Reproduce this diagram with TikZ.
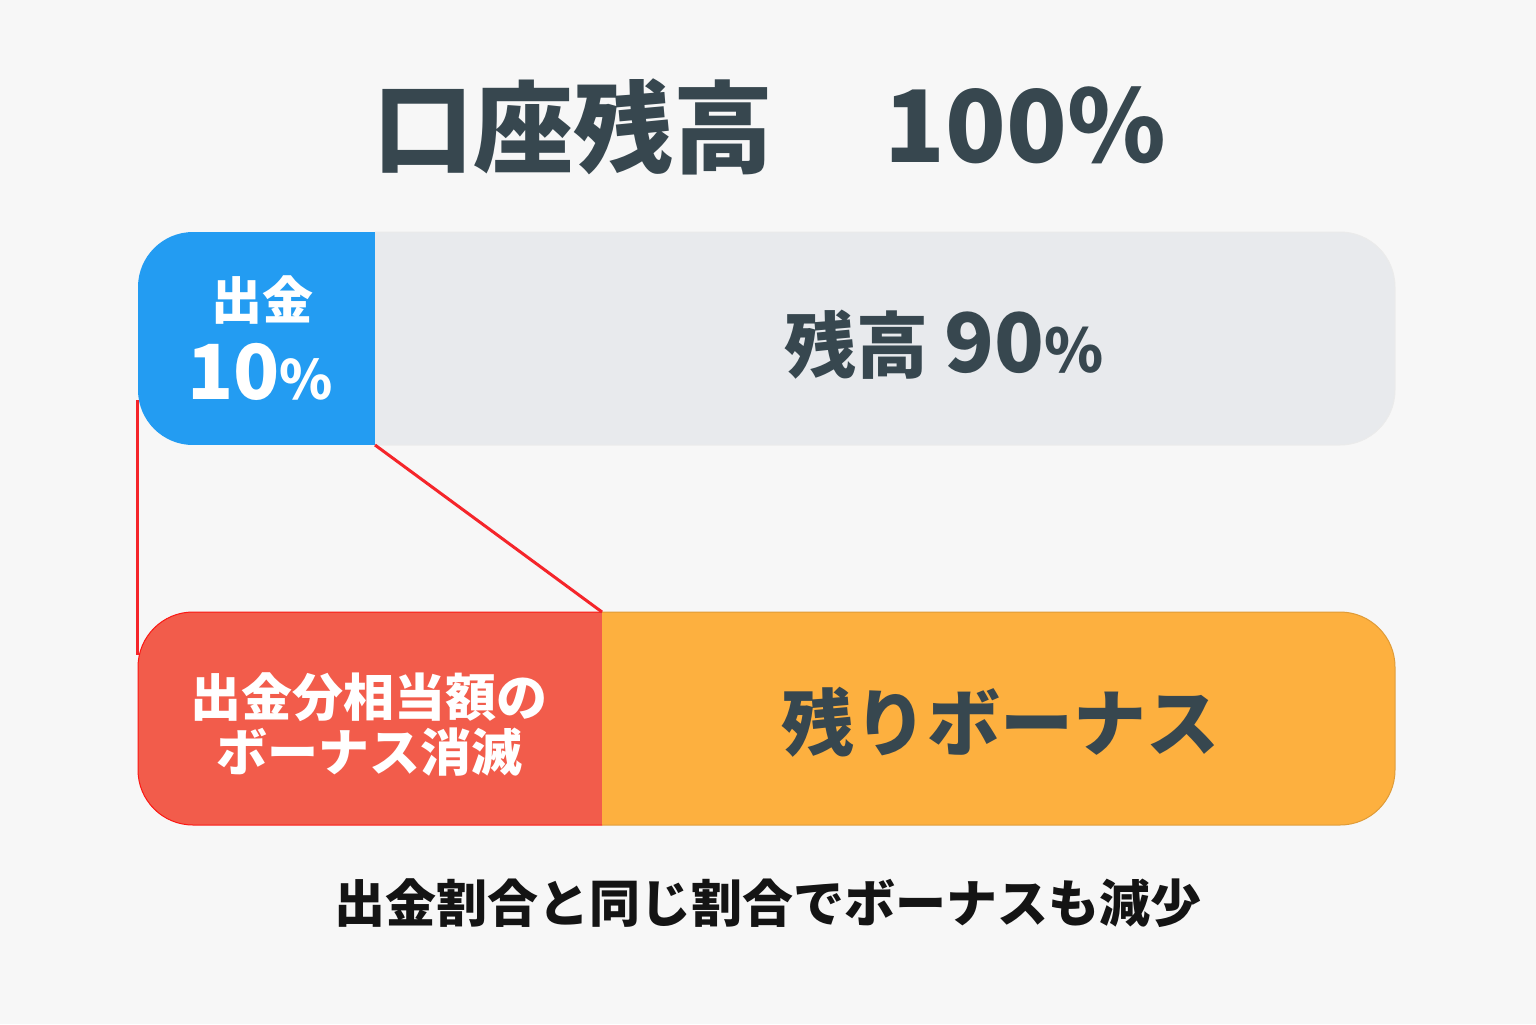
\documentclass[tikz,border=0pt]{standalone}
\usepackage{fontspec}
\setmainfont{Noto Sans CJK JP}
\definecolor{bgc}{HTML}{F7F7F7}
\definecolor{inkc}{HTML}{37474F}
\definecolor{bluec}{HTML}{239CF2}
\definecolor{greyc}{HTML}{E8EAED}
\definecolor{redc}{HTML}{F25C4B}
\definecolor{orangec}{HTML}{FDB03F}
\definecolor{linec}{HTML}{F5252A}
\tikzset{
  part/.style={rectangle, inner sep=0pt, outer sep=0pt, minimum height=106.5pt},
  wtxt/.style={text=white, inner sep=0pt, align=center},
  dtxt/.style={text=inkc, inner sep=0pt, align=center},
  link/.style={draw=linec, line width=1.5pt},
}
\begin{document}
\begin{tikzpicture}[x=0.5pt,y=-0.5pt]
\fill[bgc] (0,0) rectangle (1536,1024);
\useasboundingbox (0,0) rectangle (1536,1024);

% title
\node[dtxt, font=\bfseries\fontsize{50pt}{60pt}\selectfont] (t1) at (573,127) {口座残高};
\node[dtxt, font=\bfseries\fontsize{50pt}{60pt}\selectfont] (t2) at (1025,125) {100\%};

% top bar
\begin{scope}
\clip[rounded corners=27.5pt] (138,232) rectangle (1395,445);
\node[part, fill=bluec, minimum width=118.5pt] (wd) at (256.5,338.5) {};
\node[part, fill=greyc, minimum width=510pt] (rest) at (885,338.5) {};
\end{scope}
\draw[draw=black!8, line width=0.5pt, rounded corners=27.5pt] (375,232) -- (1395,232) -- (1395,445) -- (375,445);

\node[wtxt, font=\bfseries\fontsize{25.5pt}{30pt}\selectfont] (wdl1) at (262,300) {出金};
\node[wtxt, font=\bfseries\fontsize{38pt}{44pt}\selectfont] (wdl2) at (260,372) {10{\fontsize{27pt}{30pt}\selectfont\%}};
\node[dtxt, font=\bfseries\fontsize{36pt}{44pt}\selectfont] (restl) at (944,345) {残高 {\fontsize{41pt}{44pt}\selectfont 90}{\fontsize{30pt}{34pt}\selectfont\%}};

% bottom bar
\begin{scope}
\clip[rounded corners=27.5pt] (138,612) rectangle (1395,825);
\node[part, fill=redc, minimum width=232pt] (lost) at (370,718.5) {};
\node[part, fill=orangec, minimum width=396.5pt] (left) at (998.5,718.5) {};
\end{scope}
\draw[draw=orangec!88!black, line width=0.5pt, rounded corners=27.5pt] (602,612) -- (1395,612) -- (1395,825) -- (602,825);
\draw[draw=red!75!redc, line width=0.5pt, rounded corners=27.5pt] (602,612) -- (138,612) -- (138,825) -- (602,825);

\node[wtxt, font=\bfseries\fontsize{25.5pt}{30pt}\selectfont] (lostl1) at (369,697) {出金分相当額の};
\node[wtxt, font=\bfseries\fontsize{25.5pt}{30pt}\selectfont] (lostl2) at (369,752) {ボーナス消滅};
\node[dtxt, font=\bfseries\fontsize{36.5pt}{44pt}\selectfont] (leftl) at (1000,722) {残りボーナス};

% connectors
\coordinate (va) at (137,400);
\coordinate (vb) at (137,655);
\draw[link] (va) -- (vb);
\draw[link] (wd.south east) -- (lost.north east);

% caption
\node[text=black!92, inner sep=0pt, font=\bfseries\fontsize{25.5pt}{30pt}\selectfont] (cap) at (768,903) {出金割合と同じ割合でボーナスも減少};
\end{tikzpicture}
\end{document}
